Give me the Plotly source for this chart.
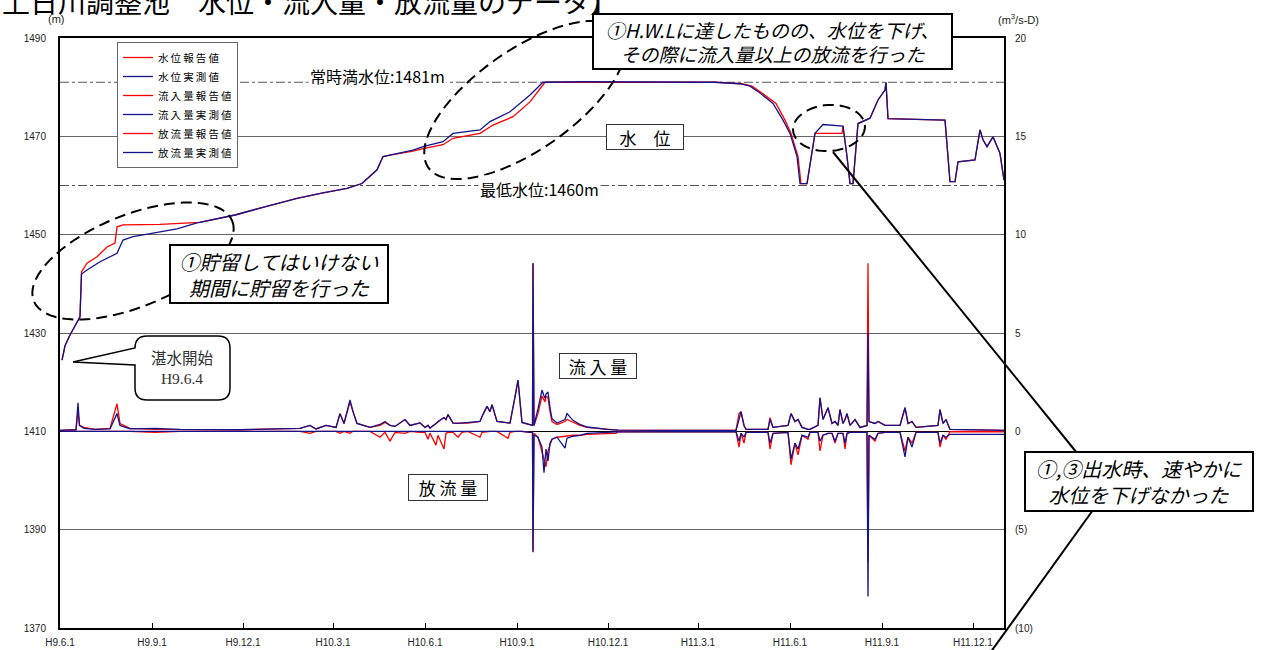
import math
import pandas as pd
import plotly.graph_objects as go

# Reservoir observation record from H9.6.1 (1997-06-01); x values are days elapsed.
START = pd.Timestamp("1997-06-01")

# Water level (m): measured values
level_day_meas = [2, 5, 10, 18, 20, 21.5, 27, 40, 57, 63, 73, 93, 117, 137, 152, 175, 200, 220, 237, 263,
                  287, 302, 317, 323, 330, 353, 363, 383, 393, 420, 430, 450, 470, 483, 520, 600, 655, 680, 690, 700,
                  713, 723, 730, 737, 740, 747, 755, 763, 783, 787, 790, 793, 798, 810, 818, 825, 826, 828, 860, 885,
                  890, 895, 898, 915, 920, 923, 927, 933, 940, 944]
level_meas = [1424.5, 1427.4, 1429.6, 1432.6, 1433.3, 1442.0, 1442.8, 1444.5, 1446.2, 1448.9,
              1449.6, 1450.3, 1451.2, 1452.4, 1453.0, 1454.0, 1455.4, 1456.4, 1457.4, 1458.5,
              1459.4, 1460.4, 1463.2, 1465.9, 1466.2, 1467.2, 1467.9, 1468.9, 1470.6, 1471.3,
              1473.0, 1475.0, 1478.4, 1481.0, 1481.1, 1481.0, 1481.0, 1480.7, 1480.2, 1478.8,
              1476.7, 1473.3, 1470.6, 1465.9, 1460.4, 1460.4, 1470.6, 1472.4, 1472.1, 1465.9,
              1460.4, 1460.4, 1472.6, 1473.7, 1477.4, 1479.4, 1481.0, 1473.6, 1473.5, 1473.3,
              1460.8, 1460.8, 1464.8, 1465.2, 1471.3, 1469.3, 1467.9, 1469.9, 1466.5, 1461.1]

# Water level (m): reported values
level_day_rep = [2, 5, 10, 18, 20, 21.5, 27, 37, 47, 55, 57, 63, 100, 140, 153, 175, 200, 220, 237, 263,
                 287, 302, 317, 323, 330, 353, 363, 383, 393, 420, 433, 453, 470, 485, 520, 600, 655, 682, 692, 702,
                 716, 725, 731, 738, 741, 747, 755, 782, 783, 787, 790, 793, 798, 810, 818, 825, 826, 828, 860, 885,
                 890, 895, 898, 915, 920, 923, 927, 933, 940, 944]
level_rep = [1424.5, 1427.4, 1429.6, 1432.6, 1433.3, 1442.4, 1444.2, 1445.5, 1447.5, 1448.3,
             1451.6, 1452.0, 1452.1, 1452.5, 1453.0, 1454.0, 1455.4, 1456.4, 1457.4, 1458.5,
             1459.4, 1460.4, 1463.2, 1465.9, 1466.2, 1467.0, 1467.5, 1468.3, 1469.6, 1470.6,
             1472.3, 1474.0, 1477.0, 1481.0, 1481.0, 1481.0, 1481.0, 1480.7, 1480.2, 1478.8,
             1476.7, 1473.3, 1470.6, 1465.9, 1460.4, 1460.4, 1470.6, 1470.6, 1472.1, 1465.9,
             1460.4, 1460.4, 1472.6, 1473.7, 1477.4, 1479.4, 1481.0, 1473.6, 1473.5, 1473.3,
             1460.8, 1460.8, 1464.8, 1465.2, 1471.3, 1469.3, 1467.9, 1469.9, 1466.5, 1461.1]

# Inflow / outflow (m3/s-D) on a shared day grid
flow_day = [0, 16, 18, 19.5, 24, 35, 50, 54, 57, 60, 70, 95, 120, 180, 240, 250, 256, 266, 276, 280,
            284, 290, 293, 297, 310, 320, 325, 330, 335, 345, 350, 360, 365, 368, 370, 376, 378, 384, 386, 388,
            393, 398, 402, 408, 420, 422, 427, 430, 432, 437, 448, 450, 455, 458, 462, 470, 472.5, 473, 474, 478,
            482, 484, 485, 486, 488, 490, 492, 497, 505, 507, 513, 520, 527, 547, 556, 558, 620, 676, 679, 681,
            684, 686, 708, 710, 713, 728, 731, 735, 738, 742, 748, 750, 758, 760, 763, 768, 772, 775, 778, 780,
            783, 785, 787, 790, 795, 800, 807, 808, 809, 815, 818, 825, 840, 845, 848, 852, 856, 878, 880, 883,
            886, 890, 944]
inflow_meas = [.05, .08, 1.45, .3, .15, .1, .12, .6, .9, .3, .12, .15, .1, .08, .15, .3, .12, .3, .2, .9,
               .4, 1.6, 1.0, .4, .2, .35, .5, .3, .25, .6, .3, .43, .2, .3, .17, .4, .5, .7, .6, .85,
               .42, .4, .42, .42, .5, .76, 1.27, 1.0, 1.36, .5, .42, .42, 1.75, 2.6, .45, .34, .3, 8.55, .3, 1.15,
               2.1, 1.8, 1.68, 1.9, 2.0, 1.2, .64, .42, .6, .9, .56, .35, .22, .1, .08, .06, .05, .05, .6, 1.0,
               .3, .1, .1, .6, .2, .3, .9, .5, .6, .2, .1, .1, .3, 1.7, .6, 1.2, .4, .5, .3, 1.1,
               .4, .6, .9, .3, .6, .2, .3, 5.0, .5, .4, .5, .3, .3, 1.2, .4, .5, .2, .3, 1.1, .4,
               .6, .1, .05]
inflow_rep = [.05, .08, 1.0, .3, .2, .1, .15, .8, 1.4, .4, .15, .1, .1, .08, .15, .3, .12, .3, .2, .9,
              .4, 1.5, 1.0, .4, .2, .3, .45, .3, .25, .6, .3, .43, .2, .3, .17, .4, .5, .7, .6, .85,
              .42, .4, .42, .42, .5, .76, 1.27, 1.0, 1.36, .5, .42, .42, 1.75, 2.6, .45, .34, .3, 8.55, .3, .9,
              1.8, 1.6, 1.5, 1.8, 1.7, 1.0, .5, .35, .5, .6, .45, .3, .2, .1, .08, .06, .05, .05, .9, 1.0,
              .3, .1, .1, .7, .2, .3, .9, .5, .6, .2, .1, .1, .3, 1.7, .6, 1.2, .4, .5, .3, 1.1,
              .4, .6, .9, .3, .6, .2, .3, 8.55, .5, .4, .5, .3, .3, 1.2, .4, .5, .2, .3, 1.1, .4,
              .6, .1, .05]
outflow_meas = [0, 0, 0, 0, 0, 0, 0, 0, 0, 0, 0, 0, 0, 0, 0, 0, 0, 0, 0, 0,
                0, 0, 0, 0, 0, 0, 0, 0, 0, 0, 0, 0, 0, 0, 0, 0, 0, 0, 0, 0,
                0, 0, 0, 0, 0, 0, 0, 0, 0, 0, 0, 0, 0, 0, 0, .05, .05, 6.15, .2, .3,
                .8, 2.1, 1.2, .9, 1.5, .6, .4, .3, .85, .35, .25, .2, .1, .05, .03, .03, .02, .02, .5, .1,
                .3, .05, .05, .6, .1, .05, 1.4, .6, .9, .2, .3, .05, .05, .5, .2, .1, .1, .5, .1, .1,
                .1, .6, .1, .05, .05, .05, .05, 8.4, .2, .4, .1, .05, .05, 1.3, .3, .8, .05, .05, .6, .2,
                .3, .15, .15]
outflow_rep = [0, 0, 0, 0, 0, 0, 0, 0, 0, 0, 0, .05, 0, 0, 0, .1, 0, 0, 0, .1,
               0, .1, 0, 0, 0, .3, .05, .5, .05, .1, 0, .05, .05, .4, .1, .7, .2, .9, .1, .05,
               .05, .3, .05, 0, .3, .05, 0, 0, 0, 0, .35, .05, 0, 0, 0, .05, .05, 6.1, .1, .3,
               1.0, 1.3, 1.6, 1.8, 1.0, .7, .4, .3, .25, .25, .2, .2, .15, .12, .1, .02, .02, .02, .8, .1,
               .6, .05, .05, .9, .1, .05, 1.7, .6, 1.2, .2, .4, .05, .05, 1.0, .2, .1, .1, .6, .1, .1,
               .1, .9, .1, .05, .05, .05, .05, 6.6, .2, .5, .1, .05, .05, 1.0, .3, .6, .05, .05, .8, .2,
               .4, .02, .02]

# Axis ticks
tick_dates = ["1997-06-01", "1997-09-01", "1997-12-01", "1998-03-01", "1998-06-01", "1998-09-01",
              "1998-12-01", "1999-03-01", "1999-06-01", "1999-09-01", "1999-12-01"]
tick_labels = ["H9.6.1", "H9.9.1", "H9.12.1", "H10.3.1", "H10.6.1", "H10.9.1",
               "H10.12.1", "H11.3.1", "H11.6.1", "H11.9.1", "H11.12.1"]
level_ticks = [1370, 1390, 1410, 1430, 1450, 1470, 1490]
flow_ticks = [-10, -5, 0, 5, 10, 15, 20]
flow_tick_labels = ["(10)", "(5)", "0", "5", "10", "15", "20"]

# Reference water levels
FULL_LEVEL = 1481   # 常時満水位
LOW_LEVEL = 1460    # 最低水位

RED = "#ff0000"
NAVY = "#14148c"
JP = "Noto Sans CJK JP"
W, H = 1262, 650
PL, PR, PT, PB = 60, 1004, 38, 628


def to_dates(days):
    return START + pd.to_timedelta(days, unit="D")


def px(x):
    return (x - PL) / (PR - PL)


def py(y):
    return (PB - y) / (PB - PT)


def spaced(s):
    return "\u2009".join(s)


def ellipse_path(cx, cy, a, b, deg, n=72):
    t = math.radians(deg)
    pts = []
    for i in range(n):
        th = 2 * math.pi * i / n
        ex, ey = a * math.cos(th), b * math.sin(th)
        x = cx + ex * math.cos(t) - ey * math.sin(t)
        y = cy + ex * math.sin(t) + ey * math.cos(t)
        pts.append(f"{px(x):.5f},{py(y):.5f}")
    return "M " + " L ".join(pts) + " Z"


fig = go.Figure()

series = [
    (level_day_rep, level_rep, "水位報告値", RED, "y"),
    (level_day_meas, level_meas, "水位実測値", NAVY, "y"),
    (flow_day, inflow_rep, "流入量報告値", RED, "y2"),
    (flow_day, inflow_meas, "流入量実測値", NAVY, "y2"),
    (flow_day, [-v for v in outflow_rep], "放流量報告値", RED, "y2"),
    (flow_day, [-v for v in outflow_meas], "放流量実測値", NAVY, "y2"),
]
for days, vals, name, color, axis in series:
    fig.add_trace(go.Scatter(x=to_dates(days), y=vals, name=spaced(name), mode="lines",
                             line=dict(color=color, width=1.3), yaxis=axis))

shapes = []
# reference level lines
for lv in (FULL_LEVEL, LOW_LEVEL):
    shapes.append(dict(type="line", xref="paper", x0=0, x1=1, yref="y", y0=lv, y1=lv,
                       line=dict(color="#555555", width=1, dash="dashdot"), layer="below"))
# dashed ellipses
for cx, cy, a, b, deg in [(133, 261, 107, 46, -22), (525, 100, 118, 50, -35), (829, 128, 36, 23, -4)]:
    shapes.append(dict(type="path", xref="paper", yref="paper", path=ellipse_path(cx, cy, a, b, deg),
                       line=dict(color="black", width=2, dash="11px,6px")))
# leader lines of the flood-period callout
shapes.append(dict(type="line", xref="paper", yref="paper", x0=px(833), y0=py(152), x1=px(1077), y1=py(453),
                   line=dict(color="black", width=2)))
shapes.append(dict(type="line", xref="paper", yref="paper", x0=px(1093), y0=py(510), x1=px(985), y1=py(660),
                   line=dict(color="black", width=2)))
# rounded speech bubble for the impoundment start
bx0, bx1, by0, by1, r = 135, 230, 336, 400, 12
bubble = [
    ("M", bx0 + r, by0), ("L", bx1 - r, by0), ("Q", bx1, by0, bx1, by0 + r), ("L", bx1, by1 - r),
    ("Q", bx1, by1, bx1 - r, by1), ("L", bx0 + r, by1), ("Q", bx0, by1, bx0, by1 - r),
    ("L", bx0, 365), ("L", 73, 362), ("L", bx0, 348), ("Q", bx0, by0, bx0 + r, by0),
]
parts = []
for seg in bubble:
    cmd, coords = seg[0], seg[1:]
    xy = [f"{px(coords[i]):.5f},{py(coords[i + 1]):.5f}" for i in range(0, len(coords), 2)]
    parts.append(cmd + " " + " ".join(xy))
shapes.append(dict(type="path", xref="paper", yref="paper", path=" ".join(parts) + " Z",
                   fillcolor="white", line=dict(color="black", width=1.5)))

annotations = [
    dict(text="上日川調整池　水位・流入量・放流量のデータ】", x=px(0), y=py(1), xanchor="left",
         font=dict(family=JP, size=28, color="black")),
    dict(text="(m)", x=px(56), y=py(19), font=dict(family="Liberation Sans", size=11, color="#222")),
    dict(text="(m<sup>3</sup>/s-D)", x=px(1018), y=py(19),
         font=dict(family="Liberation Sans", size=11, color="#222")),
    dict(text="常時満水位:1481m", x=px(377), y=py(76), bgcolor="white",
         font=dict(family=JP, size=16, color="black")),
    dict(text="最低水位:1460m", x=px(539), y=py(189), bgcolor="white",
         font=dict(family=JP, size=16, color="black")),
    dict(text="水　位", x=px(645), y=py(137), bgcolor="white", bordercolor="#333",
         borderwidth=1, width=74, height=22, font=dict(family=JP, size=17, color="black")),
    dict(text="流 入 量", x=px(598), y=py(365.5), bgcolor="white", bordercolor="#333",
         borderwidth=1, width=74, height=22, font=dict(family=JP, size=17, color="black")),
    dict(text="放 流 量", x=px(448), y=py(487), bgcolor="white", bordercolor="#333",
         borderwidth=1, width=76, height=23, font=dict(family=JP, size=17, color="black")),
    dict(text="湛水開始<br>H9.6.4", x=px(182), y=py(369),
         font=dict(family="Liberation Serif, " + JP, size=15.5, color="#333")),
    dict(text="<i>①貯留してはいけない<br>期間に貯留を行った</i>", x=px(278.5), y=py(274.3),
         bgcolor="white", bordercolor="black", borderwidth=2, width=214, height=54,
         font=dict(family=JP, size=20, color="black")),
    dict(text="<i>①H.W.Lに達したものの、水位を下げ、<br>その際に流入量以上の放流を行った</i>", x=px(772),
         y=py(41), bgcolor="white", bordercolor="black", borderwidth=2, width=355, height=51,
         font=dict(family=JP, size=19, color="black")),
    dict(text="<i>①,③出水時、速やかに<br>水位を下げなかった</i>", x=px(1138.5), y=py(481),
         bgcolor="white", bordercolor="black", borderwidth=2, width=224, height=55,
         font=dict(family=JP, size=20, color="black")),
]
for a in annotations:
    a.setdefault("xref", "paper")
    a.setdefault("yref", "paper")
    a.setdefault("xanchor", "center")
    a.setdefault("yanchor", "middle")
    a.setdefault("showarrow", False)

fig.update_layout(
    width=W, height=H, autosize=False,
    margin=dict(l=PL, r=W - PR, t=PT, b=H - PB),
    paper_bgcolor="white", plot_bgcolor="white",
    showlegend=True,
    legend=dict(x=px(117), y=py(42), xanchor="left", yanchor="top", bgcolor="white",
                bordercolor="#666", borderwidth=1, font=dict(family=JP, size=10.5, color="black"),
                tracegroupgap=0, itemwidth=30),
    xaxis=dict(type="date", range=["1997-06-01", "2000-01-01"], tickvals=tick_dates, ticktext=tick_labels,
               ticks="inside", ticklen=5, tickcolor="black", showgrid=False, showline=True, linecolor="black",
               linewidth=2, mirror=True, zeroline=False, ticklabelstandoff=4, automargin=False,
               tickfont=dict(family="Liberation Sans", size=10, color="#222")),
    yaxis=dict(range=[1370, 1490], tickvals=level_ticks, ticks="", showgrid=True, gridcolor="#666",
               gridwidth=1, showline=True, linecolor="black", linewidth=2, mirror=True, zeroline=False,
               ticklabelstandoff=10, automargin=False,
               tickfont=dict(family="Liberation Sans", size=10, color="#222")),
    yaxis2=dict(range=[-10, 20], overlaying="y", side="right", tickvals=flow_ticks, ticktext=flow_tick_labels,
                showgrid=False, showline=False, zeroline=True, zerolinecolor="black", zerolinewidth=1,
                ticks="", ticklabelstandoff=10, automargin=False,
                tickfont=dict(family="Liberation Sans", size=10, color="#222")),
    shapes=shapes,
    annotations=annotations,
)

fig.write_html("out.html")
